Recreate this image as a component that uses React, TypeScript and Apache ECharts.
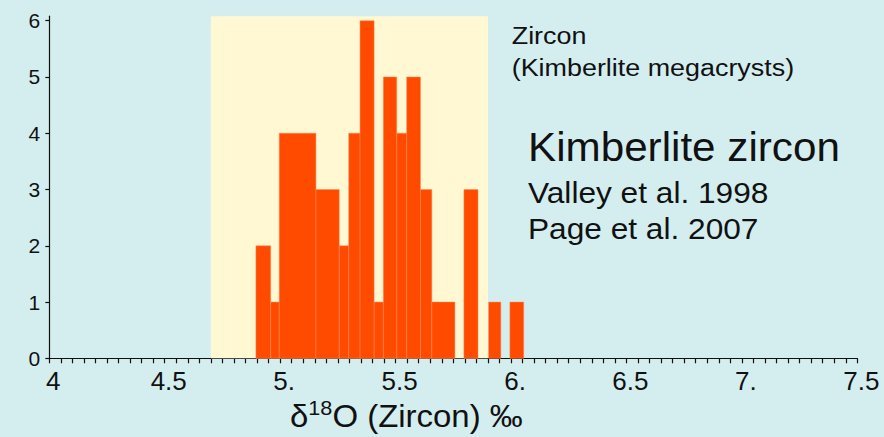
import React, { useEffect, useRef } from "react";
import * as echarts from "echarts";

// Histogram bars (δ18O bin edges, counts)
const binStart = [4.895, 4.959, 4.996, 5.155, 5.256, 5.297, 5.346, 5.407, 5.447, 5.505, 5.548, 5.608, 5.657, 5.796, 5.903, 5.995];
const binEnd = [4.959, 4.996, 5.155, 5.256, 5.297, 5.346, 5.407, 5.447, 5.505, 5.548, 5.608, 5.657, 5.757, 5.857, 5.956, 6.055];
const counts = [2, 1, 4, 3, 2, 4, 6, 1, 5, 4, 5, 3, 1, 3, 1, 1];

// Mantle range band
const bandRange = [4.7, 5.9];

// Axis ticks / labels
const xTickValues = [4, 4.5, 5, 5.5, 6, 6.5, 7, 7.5];
const xTickLabels = ["4", "4.5", "5.", "5.5", "6.", "6.5", "7.", "7.5"];
const yTickValues = [0, 1, 2, 3, 4, 5, 6];

const FONT = "'Liberation Sans', Arial, Helvetica, sans-serif";
const BAR = "#FF4B00";
const BAND = "#FFF8D3";
const BG = "#D4EEF0";
const INK = "#111111";

export default function App() {
  const ref = useRef<HTMLDivElement>(null);
  useEffect(() => {
    if (!ref.current) return;
    const chart = echarts.init(ref.current, undefined, { renderer: "svg" });
    const barData = binStart.map((s, i) => [s, binEnd[i], counts[i]]);
    chart.setOption({
      animation: false,
      backgroundColor: BG,
      textStyle: { fontFamily: FONT },
      grid: { left: 49.3, right: 26.7, top: 16.2, bottom: 78.7 },
      xAxis: {
        type: "value",
        min: 4,
        max: 7.5,
        interval: 0.05,
        splitLine: { show: false },
        axisLine: { show: true, onZero: false, lineStyle: { color: INK, width: 1.2 } },
        axisTick: { show: true, length: 5, inside: false, lineStyle: { color: INK, width: 1.2 } },
        axisLabel: {
          customValues: xTickValues,
          fontSize: 26,
          color: INK,
          fontFamily: FONT,
          margin: 10,
          padding: [0, 0, 0, 8],
          formatter: (v: number) => {
            const i = xTickValues.findIndex((t) => Math.abs(t - v) < 1e-6);
            return i >= 0 ? xTickLabels[i] : "";
          },
        },
      },
      yAxis: {
        type: "value",
        min: 0,
        max: 6.08,
        splitLine: { show: false },
        axisLine: { show: true, lineStyle: { color: INK, width: 1.2 } },
        axisTick: { show: true, length: 4, customValues: yTickValues, lineStyle: { color: INK, width: 1.2 } },
        axisLabel: {
          customValues: yTickValues,
          fontSize: 21,
          color: INK,
          fontFamily: FONT,
          margin: 9,
        },
      },
      series: [
        {
          type: "line",
          data: [],
          z: 1,
          silent: true,
          markArea: {
            silent: true,
            itemStyle: { color: BAND },
            data: [[{ xAxis: bandRange[0] }, { xAxis: bandRange[1] }]],
          },
        },
        {
          type: "custom",
          z: 3,
          data: barData,
          encode: { x: [0, 1], y: 2 },
          renderItem: (params: any, api: any) => {
            const p0 = api.coord([api.value(0), api.value(2)]);
            const p1 = api.coord([api.value(1), 0]);
            return {
              type: "rect",
              shape: { x: p0[0], y: p0[1], width: p1[0] - p0[0], height: p1[1] - p0[1] },
              style: { fill: BAR, stroke: "#FF8A5A", lineWidth: 0.5 },
            };
          },
        },
      ],
      graphic: [
        { type: "text", x: 511.7, y: 35.8, scaleX: 1.17, style: { text: "Zircon", font: `23px ${FONT}`, fill: INK, verticalAlign: "middle" } },
        { type: "text", x: 511.7, y: 67.8, scaleX: 1.17, style: { text: "(Kimberlite megacrysts)", font: `23px ${FONT}`, fill: INK, verticalAlign: "middle" } },
        { type: "text", x: 528, y: 147.5, scaleX: 1.055, style: { text: "Kimberlite zircon", font: `40px ${FONT}`, fill: INK, verticalAlign: "middle" } },
        { type: "text", x: 528, y: 192.3, scaleX: 1.055, style: { text: "Valley et al. 1998", font: `30px ${FONT}`, fill: INK, verticalAlign: "middle" } },
        { type: "text", x: 528, y: 228.5, scaleX: 1.055, style: { text: "Page et al. 2007", font: `30px ${FONT}`, fill: INK, verticalAlign: "middle" } },
        {
          type: "text",
          x: 290,
          y: 416,
          scaleX: 1.03,
          style: {
            text: "{a|δ}{s|18}{a|O (Zircon) ‰}",
            fill: INK,
            verticalAlign: "middle",
            rich: {
              a: { fontSize: 32, fontFamily: FONT, fill: INK, lineHeight: 36 },
              s: { fontSize: 21, fontFamily: FONT, fill: INK, verticalAlign: "top", lineHeight: 36 },
            },
          },
        },
      ],
    });
    return () => chart.dispose();
  }, []);
  return <div ref={ref} style={{ position: "absolute", left: 0, top: 0, width: 884, height: 437 }} />;
}
